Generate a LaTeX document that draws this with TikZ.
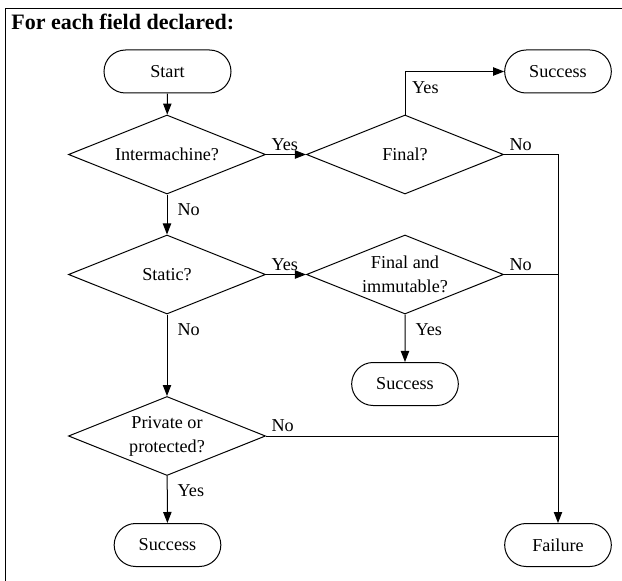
\documentclass[tikz,border=0pt]{standalone}
\usepackage{fontspec}
\setmainfont{Liberation Serif}
\usetikzlibrary{shapes.geometric,shapes.misc,arrows.meta}

\begin{document}
\begin{tikzpicture}[x=0.6pt,y=-0.6pt,
  line width=0.6pt,
  txt/.style={font=\fontsize{10.9}{14.4}\selectfont},
  decision/.style={diamond, draw, txt, align=center, inner sep=0pt,
    aspect=2.5, minimum width=118.2pt, minimum height=47.4pt},
  terminal/.style={rounded rectangle, draw, txt, inner sep=0pt,
    minimum width=64pt, minimum height=25.8pt},
  flow/.style={-{Triangle[length=6.6pt,width=5pt]}},
  hlbl/.style={txt, inner sep=2pt, pos=0, anchor=south west, xshift=1pt},
  vlbl/.style={txt, inner sep=2pt, pos=0, anchor=north west, xshift=4pt, yshift=-3pt}]
\useasboundingbox (0,0) rectangle (622,581);

% frame and heading
\draw[line width=1pt] (5.5,581) -- (5.5,8.5) -- (622,8.5);
\node[anchor=base west, inner sep=0pt, font=\bfseries\fontsize{13.2}{15}\selectfont]
  (title) at (11,30) {For each field declared:};

% nodes
\node[terminal, minimum width=76.2pt] (start) at (167.5,71.5) {Start};
\node[decision] (inter) at (167,154.5) {Intermachine?};
\node[decision] (final) at (405,154.5) {Final?};
\node[terminal] (succA) at (558,71.5) {Success};
\node[decision] (static) at (167,274.5) {Static?};
\node[decision] (fimm) at (405,274.5) {Final and\\immutable?};
\node[terminal] (succB) at (405,384) {Success};
\node[decision] (priv) at (167,436) {Private or\\protected?};
\node[terminal] (succC) at (167.5,545) {Success};
\node[terminal] (fail) at (558,545) {Failure};
\coordinate (yescorner) at (final.north |- succA.west);

% connectors
\draw[flow] (start) -- (inter);
\draw[flow] (inter) -- node[hlbl] {Yes} (final);
\draw[flow] (final.north) -- (yescorner) node[txt, inner sep=2pt, anchor=north west, xshift=2pt, yshift=-4pt] {Yes} -- (succA.west);
\draw[flow] (final.east) -| node[hlbl] {No} (fail.north);
\draw[flow] (inter) -- node[vlbl] {No} (static);
\draw[flow] (static) -- node[hlbl] {Yes} (fimm);
\draw (fimm.east) -- node[hlbl] {No} (fimm.east -| fail.north);
\draw[flow] (fimm) -- node[vlbl] {Yes} (succB);
\draw[flow] (static) -- node[vlbl] {No} (priv);
\draw (priv.east) -- node[hlbl] {No} (priv.east -| fail.north);
\draw[flow] (priv) -- node[vlbl] {Yes} (succC);
\end{tikzpicture}
\end{document}
